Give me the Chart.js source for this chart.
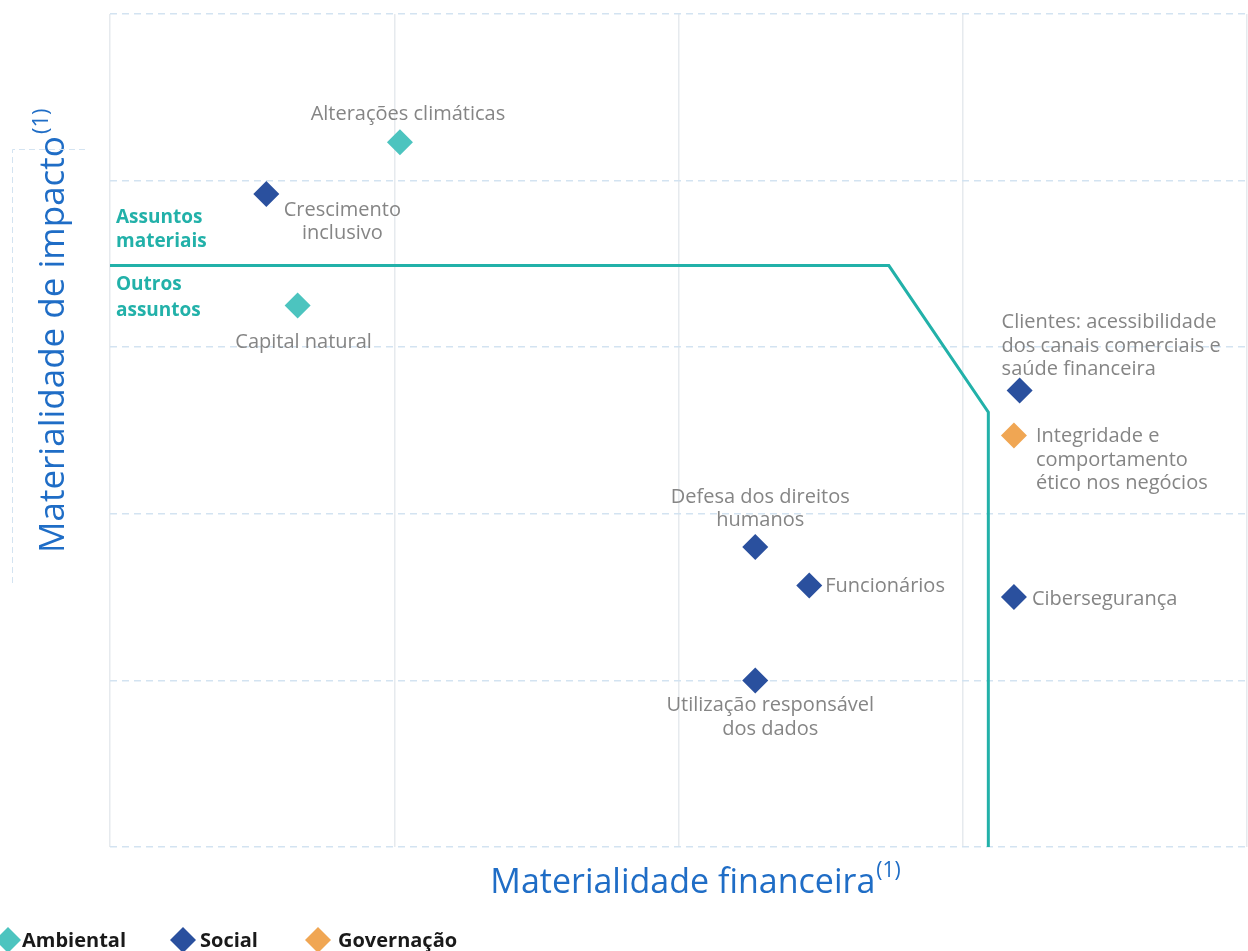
<!DOCTYPE html>
<html>
<head>
<meta charset="utf-8">
<script src="https://cdn.jsdelivr.net/npm/chart.js@4"></script>
<style>
  html, body { margin: 0; padding: 0; background: #fff; overflow: hidden; }
  #matrix { display: block; }
</style>
</head>
<body>
<canvas id="matrix" width="1248" height="951"></canvas>
<script>
// topic data: x = materialidade financeira, y = materialidade de impacto
const topics = ["Alterações climáticas", "Crescimento inclusivo", "Capital natural",
  "Clientes: acessibilidade dos canais comerciais e saúde financeira",
  "Integridade e comportamento ético nos negócios", "Defesa dos direitos humanos",
  "Funcionários", "Cibersegurança", "Utilização responsável dos dados"];
const financial = [1.02, 0.55, 0.66, 3.20, 3.18, 2.27, 2.46, 3.18, 2.27];
const impact = [4.23, 3.92, 3.25, 2.74, 2.47, 1.80, 1.57, 1.50, 1.00];
const pillar = ["Ambiental", "Social", "Ambiental", "Social", "Governação", "Social", "Social", "Social", "Social"];
const pillars = ["Ambiental", "Social", "Governação"];

// materiality threshold line
const thresholdX = [0, 2.74, 3.09, 3.09];
const thresholdY = [3.49, 3.49, 2.61, 0];

const xTicks = [0, 1, 2, 3, 4];
const yTicks = [0, 1, 2, 3, 4, 5];

const colors = { "Ambiental": "#4cc4bf", "Social": "#2a509e", "Governação": "#f0a653" };
const teal = "#22b1a9";
const blue = "#1f6dc6";
const grey = "#858585";

// label lines and placement relative to the marker (dx, dy of first line, align)
const labelLayout = [
  { lines: ["Alterações climáticas"], dx: 8, dy: -28, align: "center" },
  { lines: ["Crescimento", "inclusivo"], dx: 76, dy: 16, align: "center" },
  { lines: ["Capital natural"], dx: 6, dy: 37, align: "center" },
  { lines: ["Clientes: acessibilidade", "dos canais comerciais e", "saúde financeira"], dx: -18, dy: -68, align: "left" },
  { lines: ["Integridade e", "comportamento", "ético nos negócios"], dx: 22, dy: 1, align: "left" },
  { lines: ["Defesa dos direitos", "humanos"], dx: 5, dy: -50, align: "center" },
  { lines: ["Funcionários"], dx: 16, dy: 1, align: "left" },
  { lines: ["Cibersegurança"], dx: 18, dy: 2, align: "left" },
  { lines: ["Utilização responsável", "dos dados"], dx: 15, dy: 25, align: "center" }
];

const FONT = "'Open Sans', 'Noto Sans', sans-serif";

const datasets = pillars.map(p => ({
  label: p,
  data: topics.map((t, i) => ({ x: financial[i], y: impact[i], idx: i })).filter(d => pillar[d.idx] === p),
  pointStyle: "rectRot",
  pointRadius: 13,
  pointHoverRadius: 13,
  backgroundColor: colors[p],
  borderColor: colors[p],
  borderWidth: 0,
  showLine: false,
  order: 1
}));

datasets.unshift({
  label: "limite",
  data: thresholdX.map((x, i) => ({ x: x, y: thresholdY[i] })),
  showLine: true,
  borderColor: teal,
  borderWidth: 3,
  pointRadius: 0,
  fill: false,
  order: 2
});

const decorations = {
  id: "decorations",
  afterDatasetsDraw(chart) {
    const ctx = chart.ctx;
    const xs = chart.scales.x, ys = chart.scales.y;
    ctx.save();

    // point labels
    ctx.fillStyle = grey;
    ctx.font = "20px " + FONT;
    ctx.textBaseline = "middle";
    labelLayout.forEach((l, i) => {
      const px = xs.getPixelForValue(financial[i]);
      const py = ys.getPixelForValue(impact[i]);
      ctx.textAlign = l.align;
      l.lines.forEach((line, k) => ctx.fillText(line, px + l.dx, py + l.dy + k * 23.5));
    });

    // zone labels
    const lineY = ys.getPixelForValue(thresholdY[0]);
    ctx.fillStyle = teal;
    ctx.font = "bold 19px " + FONT;
    ctx.textAlign = "left";
    ctx.fillText("Assuntos", 116, lineY - 48);
    ctx.fillText("materiais", 116, lineY - 24);
    ctx.fillText("Outros", 116, lineY + 19);
    ctx.fillText("assuntos", 116, lineY + 45);

    // x axis title
    ctx.fillStyle = blue;
    ctx.textBaseline = "alphabetic";
    ctx.font = "34px " + FONT;
    const xt = "Materialidade financeira";
    const w = ctx.measureText(xt).width;
    ctx.font = "21px " + FONT;
    const ws = ctx.measureText("(1)").width;
    const sx = 695 - (w + ws) / 2;
    ctx.font = "34px " + FONT;
    ctx.fillText(xt, sx, 893);
    ctx.font = "21px " + FONT;
    ctx.fillText("(1)", sx + w + 1, 877);

    // y axis title
    ctx.save();
    ctx.translate(64, 553);
    ctx.rotate(-Math.PI / 2);
    ctx.font = "35px " + FONT;
    const yt = "Materialidade de impacto";
    const wy = ctx.measureText(yt).width;
    ctx.fillText(yt, 0, 0);
    ctx.font = "22px " + FONT;
    ctx.fillText("(1)", wy + 2, -16);
    ctx.restore();

    // dashed text-box edge beside y title
    ctx.strokeStyle = "#d3e3f1";
    ctx.lineWidth = 1;
    ctx.setLineDash([6, 4]);
    ctx.beginPath();
    ctx.moveTo(12.5, 583);
    ctx.lineTo(12.5, 149.5);
    ctx.lineTo(86, 149.5);
    ctx.stroke();
    ctx.setLineDash([]);

    // legend
    const ly = 940;
    const legendX = [8, 183, 318];
    const legendTextX = [22, 200, 338];
    ctx.font = "bold 20px " + FONT;
    ctx.textBaseline = "middle";
    ctx.textAlign = "left";
    pillars.forEach((p, i) => {
      const lx = legendX[i];
      ctx.fillStyle = colors[p];
      ctx.beginPath();
      ctx.moveTo(lx, ly - 13);
      ctx.lineTo(lx + 13, ly);
      ctx.lineTo(lx, ly + 13);
      ctx.lineTo(lx - 13, ly);
      ctx.closePath();
      ctx.fill();
      ctx.fillStyle = "#1a1a1a";
      ctx.fillText(p, legendTextX[i], ly + 1);
    });
    ctx.restore();
  }
};

new Chart(document.getElementById("matrix"), {
  type: "scatter",
  data: { datasets: datasets },
  options: {
    responsive: false,
    animation: false,
    layout: { autoPadding: false, padding: { left: 110, top: 14, right: 1, bottom: 104 } },
    plugins: {
      legend: { display: false },
      tooltip: { enabled: false }
    },
    scales: {
      x: {
        type: "linear",
        min: xTicks[0],
        max: xTicks[xTicks.length - 1],
        afterBuildTicks: s => { s.ticks = xTicks.map(v => ({ value: v })); },
        ticks: { display: false },
        grid: { color: "#e6eaee", lineWidth: 1.5, drawTicks: false },
        border: { display: false }
      },
      y: {
        type: "linear",
        min: yTicks[0],
        max: yTicks[yTicks.length - 1],
        afterBuildTicks: s => { s.ticks = yTicks.map(v => ({ value: v })); },
        ticks: { display: false },
        grid: { color: "#d3e3f1", lineWidth: 1.5, drawTicks: false },
        border: { display: false, dash: [7, 5] }
      }
    }
  },
  plugins: [decorations]
});
</script>
</body>
</html>
